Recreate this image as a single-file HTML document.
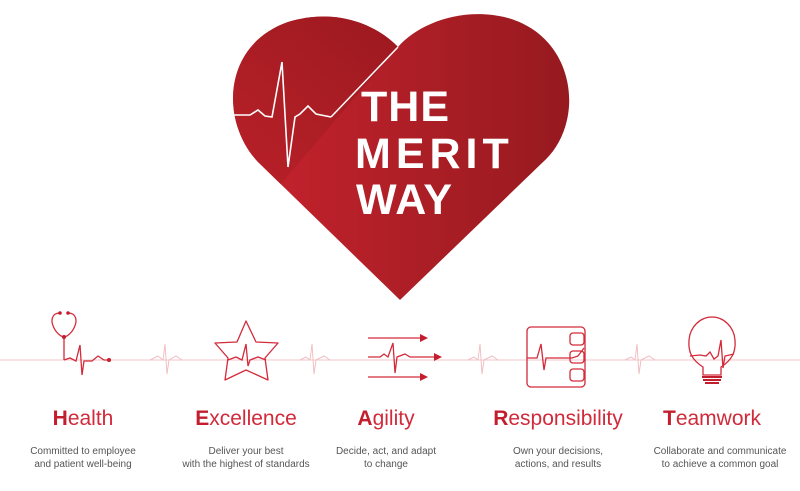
<!DOCTYPE html>
<html><head><meta charset="utf-8"><style>
body{margin:0;width:800px;height:486px;background:#fff;overflow:hidden;font-family:"Liberation Sans",sans-serif}
</style></head><body>
<svg width="800" height="486" viewBox="0 0 800 486" xmlns="http://www.w3.org/2000/svg">
<defs>
<linearGradient id="g1" x1="0" y1="0" x2="1" y2="0"><stop offset="0" stop-color="#c8232e"/><stop offset="1" stop-color="#961a1f"/></linearGradient>
<linearGradient id="g2" x1="0" y1="1" x2="1" y2="0"><stop offset="0" stop-color="#c4232c"/><stop offset="1" stop-color="#8e161b"/></linearGradient>
<clipPath id="lc"><polygon points="200,0 398,0 398,47 250,220 200,220"/></clipPath>
</defs>
<path d="M400,300 L258,162 C220,122 222,45 288,22 C340,6 380,28 398,47 C418,24 462,6 508,18 C578,38 586,125 542,163 Z" fill="url(#g1)"/>
<path d="M400,300 L258,162 C220,122 222,45 288,22 C340,6 380,28 398,47 C418,24 462,6 508,18 C578,38 586,125 542,163 Z" fill="url(#g2)" clip-path="url(#lc)"/>
<line x1="398" y1="47" x2="331" y2="117" stroke="#fff" stroke-width="1.5"/>
<polyline points="233,115 250,115 258,110 265,116 272,117 282,62 288,167 295,117 300,114 308,106 316,114 331,117" fill="none" stroke="#fff" stroke-width="1.6"/>
<g fill="#fff" font-weight="bold" font-size="43" font-family="Liberation Sans,sans-serif">
<text x="361" y="121" letter-spacing="1">THE</text><text x="355" y="168" letter-spacing="5">MERIT</text><text x="356" y="214" letter-spacing="1">WAY</text></g>
<line x1="0" y1="360" x2="800" y2="360" stroke="#f2c4c8" stroke-width="1"/>
<g fill="none" stroke="#f0c0c4" stroke-width="1">
<polyline points="150,360 158,356 163,360 165,344 167,374 169,360 176,356 182,360"/>
<polyline points="300,360 306,357 310,360 312,344 314,374 316,360 324,356 330,360"/>
<polyline points="468,360 474,357 478,360 480,344 482,374 484,360 492,356 498,360"/>
<polyline points="625,360 631,357 635,360 637,344 639,374 641,360 649,356 655,360"/>
</g>
<g fill="none" stroke="#d42a3a" stroke-width="1.3">
<path d="M60,313 C52,313 50,320 54,328 C57,334 62,337 64,337 C66,337 71,334 74,328 C78,320 76,313 68,313"/>
<line x1="64" y1="337" x2="64" y2="360"/>
<polyline points="64,360 70,358 76,361 80,345 82,375 84,361 92,361 98,356 104,360 109,360"/>
<path d="M246,321 L256,342 L278,343 L265,358 L268,380 L246,370 L225,380 L228,358 L215,343 L237,342 Z" stroke-linejoin="round"/>
<polyline points="228,360 236,357 242,360 246,344 248,366 250,360 258,357 266,360"/>
<line x1="368" y1="338" x2="420" y2="338"/><line x1="368" y1="377" x2="420" y2="377"/>
<polyline points="368,357 380,357 384,354 388,357 393,343 395,373 397,357 405,354 410,357 436,357"/>
<rect x="527" y="327" width="58" height="60" rx="4"/>
<rect x="570" y="333" width="14" height="12" rx="3"/><rect x="570" y="351" width="14" height="12" rx="3"/><rect x="570" y="369" width="14" height="12" rx="3"/>
<polyline points="527,358 537,358 541,344 544,370 546,358 560,358 572,358 578,356 584,348"/>
<path d="M703,375 L703,367 C692,360 688,352 689,340 C690,327 700,317 712,317 C724,317 734,327 735,340 C736,352 732,360 721,367 L721,375 Z"/>
<polyline points="690,356 700,355 706,356 710,352 714,359 718,356 721,340 723,368 725,356 734,354"/>
</g>
<circle cx="64" cy="337" r="2" fill="#c41e2e"/><circle cx="109" cy="360" r="2" fill="#c41e2e"/>
<circle cx="60" cy="313" r="1.8" fill="#c41e2e"/><circle cx="68" cy="313" r="1.8" fill="#c41e2e"/>
<g fill="#c41e2e"><polygon points="420,334 428,338 420,342"/><polygon points="420,373 428,377 420,381"/><polygon points="434,353 442,357 434,361"/>
<rect x="702" y="376" width="20" height="2"/><rect x="703" y="379" width="18" height="2"/><rect x="705" y="382" width="14" height="2"/></g>
<g font-size="21" fill="#d12a3a" text-anchor="middle">
<text x="83" y="425"><tspan font-weight="bold" fill="#c41e2e">H</tspan>ealth</text>
<text x="246" y="425"><tspan font-weight="bold" fill="#c41e2e">E</tspan>xcellence</text>
<text x="386" y="425"><tspan font-weight="bold" fill="#c41e2e">A</tspan>gility</text>
<text x="558" y="425"><tspan font-weight="bold" fill="#c41e2e">R</tspan>esponsibility</text>
<text x="712" y="425"><tspan font-weight="bold" fill="#c41e2e">T</tspan>eamwork</text>
</g>
<g font-size="10" fill="#555" text-anchor="middle">
<text x="83" y="454">Committed to employee</text><text x="83" y="467">and patient well-being</text>
<text x="246" y="454">Deliver your best</text><text x="246" y="467">with the highest of standards</text>
<text x="386" y="454">Decide, act, and adapt</text><text x="386" y="467">to change</text>
<text x="558" y="454">Own your decisions,</text><text x="558" y="467">actions, and results</text>
<text x="720" y="454">Collaborate and communicate</text><text x="720" y="467">to achieve a common goal</text>
</g>
</svg>
</body></html>
